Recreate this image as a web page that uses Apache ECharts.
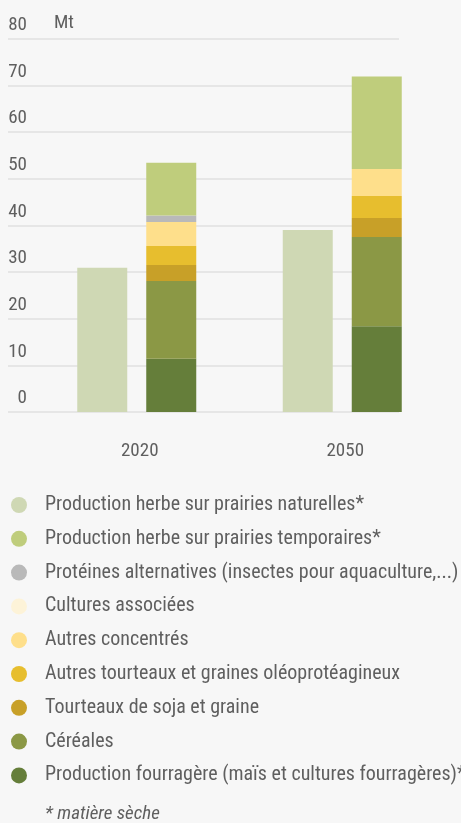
<!DOCTYPE html>
<html>
<head>
<meta charset="utf-8">
<script src="https://cdn.jsdelivr.net/npm/echarts@6/dist/echarts.min.js"></script>
<style>
  html, body { margin: 0; padding: 0; background: #f7f7f7; }
  #main { width: 461px; height: 823px; }
</style>
</head>
<body>
<div id="main"></div>
<script>
// données (Mt)
const years = ['2020', '2050'];
const yTicks = [0, 10, 20, 30, 40, 50, 60, 70, 80];
const naturelles = [30.9, 39.0];
const fourragere = [11.4, 18.4];
const cereales = [16.7, 19.1];
const soja = [3.4, 4.1];
const autresTourteaux = [4.1, 4.7];
const autresConcentres = [5.1, 5.8];
const culturesAssociees = [0, 0];
const proteines = [1.4, 0];
const temporaires = [11.3, 19.8];

const FONT = "'Roboto Condensed', 'Liberation Sans Narrow', 'Arial Narrow', Roboto, sans-serif";
const TXT = '#5f5f5f';

const chart = echarts.init(document.getElementById('main'));

// ordre d'empilement (du bas vers le haut)
const stacked = [
  { name: 'Production fourragère (maïs et cultures fourragères)*', data: fourragere, color: '#657e3a' },
  { name: 'Céréales', data: cereales, color: '#8b9845' },
  { name: 'Tourteaux de soja et graine', data: soja, color: '#c8a028' },
  { name: 'Autres tourteaux et graines oléoprotéagineux', data: autresTourteaux, color: '#e7be2e' },
  { name: 'Autres concentrés', data: autresConcentres, color: '#fedf8b' },
  { name: 'Cultures associées', data: culturesAssociees, color: '#fdf3d8' },
  { name: 'Protéines alternatives (insectes pour aquaculture,...)', data: proteines, color: '#b9b9b9' },
  { name: 'Production herbe sur prairies temporaires*', data: temporaires, color: '#bfcd7c' }
];

const series = [{
  name: 'Production herbe sur prairies naturelles*',
  type: 'bar',
  xAxisIndex: 1,
  yAxisIndex: 1,
  stack: 'nat',
  barWidth: 50,
  barGap: '38%',
  itemStyle: { color: '#cfd8b4' },
  data: naturelles
}];
stacked.forEach(s => {
  series.push({
    name: s.name,
    type: 'bar',
    xAxisIndex: 1,
    yAxisIndex: 1,
    stack: 'total',
    barWidth: 50,
    barGap: '38%',
    itemStyle: { color: s.color },
    data: s.data
  });
});

const legendOrder = ['Production herbe sur prairies naturelles*'].concat(stacked.map(s => s.name).reverse());

const option = {
  backgroundColor: '#f7f7f7',
  animation: false,
  textStyle: { fontFamily: FONT },
  grid: [
    { left: 8, right: 62, top: 38.7, bottom: 411 },
    { left: 34, right: 16, top: 38.7, bottom: 411 }
  ],
  xAxis: [
    { gridIndex: 0, type: 'value', show: false },
    {
      gridIndex: 1,
      type: 'category',
      data: years,
      axisLine: { show: false },
      axisTick: { show: false },
      axisLabel: { margin: 30, fontSize: 19, color: TXT, fontFamily: FONT, padding: [0, 0, 0, 6] }
    }
  ],
  yAxis: [
    {
      gridIndex: 0,
      type: 'value',
      min: yTicks[0],
      max: yTicks[yTicks.length - 1],
      interval: 10,
      axisLine: { show: false },
      axisTick: { show: false },
      splitLine: { lineStyle: { color: '#e0e0e0', width: 1.5 } },
      axisLabel: {
        margin: -19,
        align: 'right',
        verticalAlign: 'bottom',
        lineHeight: 19,
        padding: [0, 0, 4, 0],
        fontSize: 19,
        color: TXT,
        fontFamily: FONT
      }
    },
    { gridIndex: 1, type: 'value', min: 0, max: 80, show: false }
  ],
  legend: {
    orient: 'vertical',
    left: 6,
    top: 490,
    height: 320,
    icon: 'circle',
    itemWidth: 16,
    itemHeight: 16,
    itemGap: 13.8,
    selectedMode: false,
    data: legendOrder,
    textStyle: { fontSize: 20, color: TXT, fontFamily: FONT, padding: [0, 0, 0, 13] }
  },
  graphic: [
    { type: 'text', left: 54, top: 14, style: { text: 'Mt', fontSize: 19, fill: TXT, fontFamily: FONT } },
    { type: 'text', left: 45, top: 805, style: { text: '* matière sèche', fontSize: 19, fontStyle: 'italic', fill: TXT, fontFamily: FONT } }
  ],
  series: series
};

chart.setOption(option);
</script>
</body>
</html>
